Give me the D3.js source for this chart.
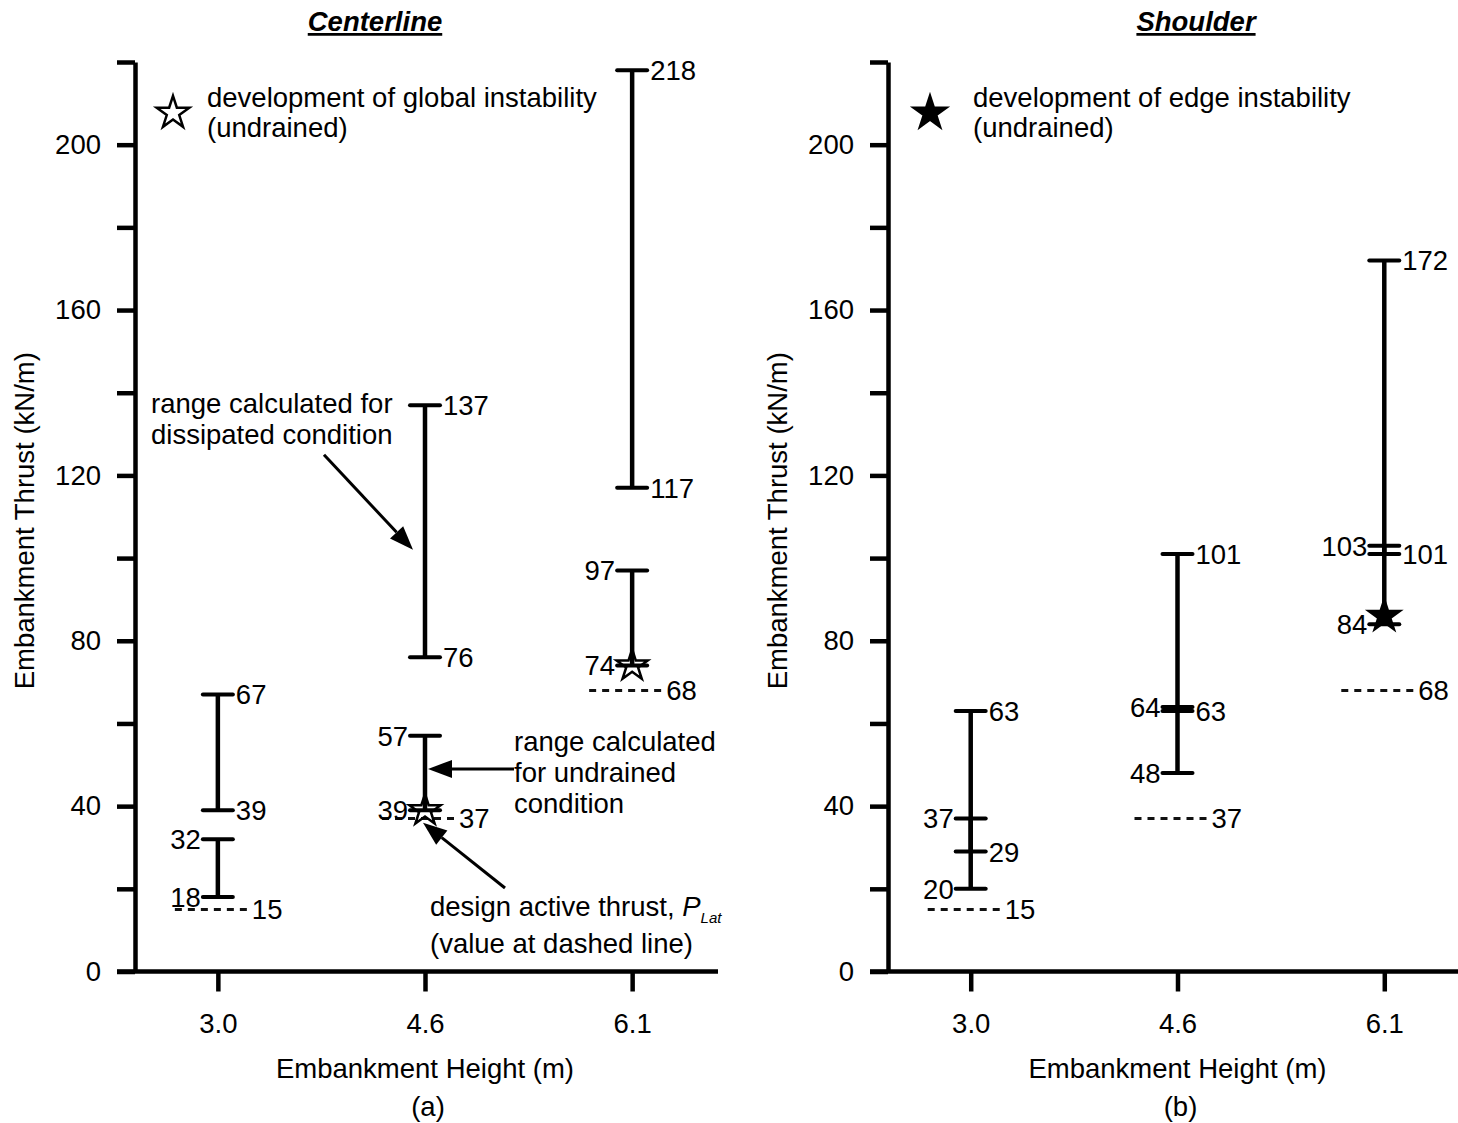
<!DOCTYPE html>
<html>
<head>
<meta charset="utf-8">
<script src="https://cdn.jsdelivr.net/npm/d3@7"></script>
<style>
body { margin: 0; background: #fff; }
svg text { font-family: Arial, "Liberation Sans", sans-serif; font-size: 27.5px; fill: #000; }
</style>
</head>
<body>
<svg id="chart" width="1458" height="1123"></svg>
<script>
// Embankment heights (x categories) and y ticks
var heights = ["3.0", "4.6", "6.1"];
var yTicks = [0, 20, 40, 60, 80, 100, 120, 140, 160, 180, 200, 220];
var yLabels = [0, 40, 80, 120, 160, 200];

// Centerline (a): dissipated range, undrained range, design thrust, instability star
var clDissLow = [39, 76, 117];
var clDissHigh = [67, 137, 218];
var clUndLow = [18, 39, 74];
var clUndHigh = [32, 57, 97];
var clDesign = [15, 37, 68];
var clStar = [null, 39, 74];

// Shoulder (b)
var shDissLow = [29, 63, 101];
var shDissHigh = [63, 101, 172];
var shUndLow = [20, 48, 84];
var shUndHigh = [37, 64, 103];
var shDesign = [15, 37, 68];
var shStar = [null, null, 86];

var svg = d3.select("#chart");
var plotTop = 62, plotBottom = 971.5;
var FONT = "Arial, 'Liberation Sans', sans-serif";

// Small helper for an arrow with a filled head
function arrow(g, x1, y1, x2, y2) {
    var a = Math.atan2(y2 - y1, x2 - x1), len = 24, hw = 9;
    var bx = x2 - len * Math.cos(a), by = y2 - len * Math.sin(a);
    g.append("line")
        .attr("x1", x1).attr("y1", y1).attr("x2", bx).attr("y2", by)
        .attr("stroke", "#000").attr("stroke-width", 3);
    g.append("path")
        .attr("d", `M${x2},${y2}L${bx + hw * Math.sin(a)},${by - hw * Math.cos(a)}L${bx - hw * Math.sin(a)},${by + hw * Math.cos(a)}Z`)
        .attr("fill", "#000");
}

// Draws one panel
function drawPanel(p) {
    var g = svg.append("g");
    var x = d3.scalePoint().domain(heights).range([p.x0, p.x1]).padding(0.4);
    var y = d3.scaleLinear().domain([0, 220]).range([plotBottom, plotTop]);

    // Y axis
    var yAxis = d3.axisLeft(y)
        .tickValues(yTicks)
        .tickSize(18).tickSizeOuter(0).tickPadding(16)
        .tickFormat(function(d) { return yLabels.indexOf(d) >= 0 ? d : ""; });
    var ya = g.append("g").attr("transform", `translate(${p.x0},0)`).call(yAxis);
    ya.selectAll("path, line").attr("stroke", "#000").attr("stroke-width", 4.5);
    ya.selectAll("text").style("font-size", "27.5px").style("font-family", FONT);

    // X axis
    var xAxis = d3.axisBottom(x).tickSize(20).tickPadding(22);
    var xa = g.append("g").attr("transform", `translate(0,${plotBottom})`).call(xAxis);
    xa.select(".domain").remove();
    xa.selectAll("line").attr("stroke", "#000").attr("stroke-width", 4.5);
    xa.selectAll("text").style("font-size", "27.5px").style("font-family", FONT);
    g.append("line")
        .attr("x1", p.x0 - 18).attr("x2", p.x1 + 3)
        .attr("y1", plotBottom).attr("y2", plotBottom)
        .attr("stroke", "#000").attr("stroke-width", 4.5);

    // Axis titles
    g.append("text")
        .attr("transform", `translate(${p.x0 - 101},${(plotTop + plotBottom) / 2 + 4}) rotate(-90)`)
        .attr("text-anchor", "middle")
        .text("Embankment Thrust (kN/m)");
    g.append("text")
        .attr("x", x("4.6")).attr("y", 1078)
        .attr("text-anchor", "middle")
        .text("Embankment Height (m)");
    g.append("text")
        .attr("x", x("4.6") + 3).attr("y", 1116)
        .attr("text-anchor", "middle")
        .text(p.caption);

    // Panel title
    g.append("text")
        .attr("x", p.titleX).attr("y", 31)
        .attr("text-anchor", "middle")
        .style("font-weight", "bold").style("font-style", "italic")
        .style("text-decoration", "underline")
        .text(p.title);

    // Design active thrust (dashed)
    heights.forEach(function(h, i) {
        var cx = x(h), v = p.design[i];
        g.append("line")
            .attr("x1", cx - 43).attr("x2", cx + 31)
            .attr("y1", y(v)).attr("y2", y(v))
            .attr("stroke", "#111").attr("stroke-width", 3)
            .attr("stroke-dasharray", "7,6");
        g.append("text").attr("x", cx + 34).attr("y", y(v)).attr("dy", "0.36em").text(v);
    });

    // Ranges: dissipated labels on right, undrained labels on left
    function range(lo, hi, side) {
        heights.forEach(function(h, i) {
            var cx = x(h);
            g.append("line")
                .attr("x1", cx).attr("x2", cx)
                .attr("y1", y(lo[i])).attr("y2", y(hi[i]))
                .attr("stroke", "#000").attr("stroke-width", 4.5);
            [lo[i], hi[i]].forEach(function(v) {
                g.append("line")
                    .attr("x1", cx - 15).attr("x2", cx + 15)
                    .attr("y1", y(v)).attr("y2", y(v))
                    .attr("stroke", "#000").attr("stroke-width", 4)
                    .attr("stroke-linecap", "round");
                g.append("text")
                    .attr("x", side > 0 ? cx + 18 : cx - 17)
                    .attr("y", y(v)).attr("dy", "0.36em")
                    .attr("text-anchor", side > 0 ? "start" : "end")
                    .text(v);
            });
        });
    }
    range(p.dissLow, p.dissHigh, 1);
    range(p.undLow, p.undHigh, -1);

    // Instability stars
    var star = d3.symbol().type(d3.symbolStar).size(300);
    heights.forEach(function(h, i) {
        if (p.star[i] == null) return;
        g.append("path")
            .attr("d", star())
            .attr("transform", `translate(${x(h)},${y(p.star[i])})`)
            .attr("fill", p.filled ? "#000" : "none")
            .attr("stroke", "#000").attr("stroke-width", 2.5);
    });

    // Legend
    g.append("path")
        .attr("d", d3.symbol().type(d3.symbolStar).size(330)())
        .attr("transform", `translate(${p.x0 + p.legStar},113)`)
        .attr("fill", p.filled ? "#000" : "#fff")
        .attr("stroke", "#000").attr("stroke-width", 2.5);
    var lt = g.append("text").attr("x", p.x0 + p.legText).attr("y", 107);
    lt.append("tspan").text(p.legend);
    lt.append("tspan").attr("x", p.x0 + p.legText).attr("dy", 30).text("(undrained)");

    return { g: g, x: x, y: y };
}

var a = drawPanel({
    x0: 135, x1: 715, titleX: 375, title: "Centerline", caption: "(a)",
    dissLow: clDissLow, dissHigh: clDissHigh, undLow: clUndLow, undHigh: clUndHigh,
    design: clDesign, star: clStar, filled: false,
    legStar: 38, legText: 72, legend: "development of global instability"
});

drawPanel({
    x0: 888, x1: 1467, titleX: 1196, title: "Shoulder", caption: "(b)",
    dissLow: shDissLow, dissHigh: shDissHigh, undLow: shUndLow, undHigh: shUndHigh,
    design: shDesign, star: shStar, filled: true,
    legStar: 42, legText: 85, legend: "development of edge instability"
});

// Annotations on panel (a)
var ag = a.g, ax = a.x, ay = a.y;
var t1 = ag.append("text").attr("x", 151).attr("y", 413);
t1.append("tspan").text("range calculated for");
t1.append("tspan").attr("x", 151).attr("dy", 31).text("dissipated condition");
arrow(ag, 324, ay(125), ax("4.6") - 12, ay(102));

var t2 = ag.append("text").attr("x", 514).attr("y", 751);
t2.append("tspan").text("range calculated");
t2.append("tspan").attr("x", 514).attr("dy", 31).text("for undrained");
t2.append("tspan").attr("x", 514).attr("dy", 31).text("condition");
arrow(ag, 514, ay(49), ax("4.6") + 3, ay(49));

var t3 = ag.append("text").attr("x", 430).attr("y", 916);
t3.append("tspan").text("design active thrust, ");
t3.append("tspan").style("font-style", "italic").text("P");
t3.append("tspan").style("font-style", "italic").style("font-size", "15px").attr("dy", 7).text("Lat");
ag.append("text").attr("x", 430).attr("y", 953).text("(value at dashed line)");
arrow(ag, 505, 888, ax("4.6") - 2, ay(36));
</script>
</body>
</html>
